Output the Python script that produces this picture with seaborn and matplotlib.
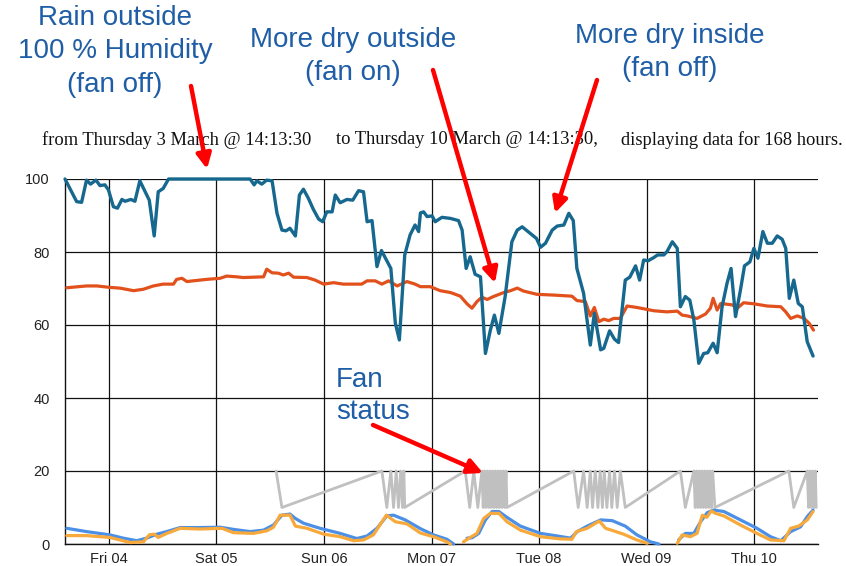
import numpy as np
import pandas as pd
import matplotlib
matplotlib.use("Agg")
import matplotlib.pyplot as plt
import seaborn as sns

# ---------------- data (hours since Thu 3 March 14:13:30) ----------------
hum_out_h = [0, 2.6, 3.7, 4.8, 5.7, 6.9, 7.8, 8.9, 9.7, 10.8, 11.7, 12.7, 13.4, 14.7, 15.6, 16.7,
             17.9, 18.8, 19.9, 20.8, 21.9, 23.1, 41.3, 42.2, 42.8, 43.9, 45.0, 46.2, 47.3, 48.4,
             49.3, 50.2, 51.4, 52.3, 53.2, 54.3, 55.4, 56.6, 57.5, 58.4, 59.6, 60.3, 61.4, 62.9,
             64.2, 65.5, 66.6, 67.4, 68.5, 69.6, 70.6, 71.7, 72.7, 73.7, 74.6, 75.8, 77.0, 78.1,
             78.9, 79.3, 80.0, 80.8, 81.9, 82.6, 84.1, 86.0, 87.8, 88.6, 89.5, 90.4, 91.5, 92.7,
             93.8, 94.9, 95.8, 96.8, 98.2, 99.7, 100.9, 102.0, 103.8, 105.2, 106.1, 107.2, 108.7,
             109.8, 111.3, 112.4, 113.4, 114.2, 115.7, 117.2, 118.1, 119.5, 120.2, 121.5, 122.6,
             123.5, 125.0, 126.0, 127.3, 128.2, 129.1, 130.1, 131.4, 132.2, 133.6, 134.3, 135.5,
             136.6, 137.3, 138.4, 139.4, 140.3, 141.4, 142.5, 143.4, 144.6, 145.5, 146.6, 147.7,
             148.6, 149.6, 150.7, 151.6, 152.8, 153.7, 154.6, 155.7, 156.7, 157.8, 158.9, 160.0,
             160.8, 161.6, 162.6, 163.6, 164.5, 165.6, 166.9]
hum_out_v = [100, 93.8, 93.6, 99.7, 98.6, 99.7, 98.2, 98.4, 97.0, 92.4, 92.0, 94.4, 93.9, 94.4, 93.9, 99.5,
             96.5, 94.2, 84.4, 96.5, 97.4, 100, 100, 98.4, 99.5, 98.6, 99.7, 99.5, 90.6, 86.0,
             85.8, 86.5, 84.4, 95.6, 97.2, 94.7, 91.7, 89.0, 88.3, 91.0, 91.0, 95.6, 93.5, 94.4,
             94.2, 96.8, 96.5, 88.3, 88.6, 76.0, 80.4, 77.8, 75.5, 60.5, 55.9, 79.2, 84.7, 87.4,
             85.6, 90.7, 91.0, 89.7, 89.9, 88.3, 89.5, 89.2, 88.6, 86.0, 75.5, 78.7, 73.9, 73.2,
             52.2, 58.6, 62.7, 57.7, 67.8, 82.8, 86.0, 86.9, 85.1, 83.7, 81.3, 82.4, 86.0,
             87.1, 87.4, 90.6, 88.6, 75.5, 68.7, 54.5, 63.2, 53.2, 53.6, 58.4, 56.1,
             55.2, 72.3, 73.1, 76.2, 72.3, 77.8, 77.6, 78.5, 79.2, 79.2, 80.1, 82.8,
             81.0, 65.0, 67.8, 66.8, 61.4, 49.5, 52.2, 52.4, 55.0, 52.4, 65.0, 71.4,
             75.5, 62.3, 69.6, 76.2, 77.3, 81.0, 78.3, 85.6, 82.4, 82.4, 84.4, 83.5,
             81.0, 67.3, 72.3, 65.9, 65.0, 55.4, 51.5]

hum_in_h = [0.4, 4.8, 7.1, 10.0, 12.3, 15.3, 17.5, 19.7, 21.9, 24.2, 24.9, 26.1, 27.2, 28.6, 31.6,
            34.6, 36.1, 38.3, 39.8, 42.0, 44.3, 45.0, 46.2, 47.6, 48.7, 49.9, 51.0, 54.0, 55.8,
            57.7, 59.9, 62.1, 66.2, 67.4, 69.2, 70.7, 72.2, 74.1, 76.3, 78.1, 79.3, 81.5, 83.7,
            86.0, 88.2, 89.7, 90.8, 91.9, 93.0, 94.2, 95.6, 97.9, 99.4, 100.9, 102.3, 105.3,
            109.0, 113.1, 114.2, 116.1, 117.2, 118.1, 119.1, 120.2, 121.3, 122.4, 123.9, 125.4,
            127.6, 131.4, 134.3, 136.6, 137.7, 138.8, 141.0, 142.9, 144.0, 144.6, 145.5, 146.3,
            148.9, 150.0, 151.4, 153.7, 156.7, 159.7, 160.8, 161.9, 163.4, 164.9, 166.0, 167.0]
hum_in_v = [70.2, 70.7, 70.7, 70.3, 70.1, 69.4, 69.8, 70.7, 71.2, 71.2, 72.5, 72.8, 71.9, 72.1, 72.5,
            72.8, 73.4, 73.2, 73.0, 73.1, 73.2, 75.3, 74.3, 74.2, 73.7, 74.2, 73.1, 73.0, 72.3,
            71.2, 71.6, 71.2, 71.2, 72.1, 72.1, 71.2, 72.1, 70.7, 71.9, 71.2, 70.5, 70.5, 69.4,
            68.9, 67.9, 65.8, 64.6, 66.4, 67.6, 67.0, 67.8, 68.9, 69.4, 70.1, 69.3, 68.4,
            68.2, 67.9, 66.7, 66.4, 62.5, 64.8, 60.9, 61.6, 61.2, 61.8, 61.8, 65.2,
            64.8, 63.9, 63.6, 63.8, 62.7, 62.5, 61.8, 63.0, 64.6, 67.3, 64.1, 65.9,
            65.5, 64.6, 66.1, 65.8, 65.2, 65.0, 63.6, 61.8, 62.5, 61.8, 60.5, 58.6]

# temperatures (NaN = no data / gap)
temp_out_h = [0.4, 4.8, 10.0, 13.0, 16.0, 18.2, 20.5, 22.7, 25.7, 30.1, 34.6, 37.6, 41.3, 44.3,
              46.5, 48.4, 50.2, 51.4, 53.2, 56.9, 61.4, 65.1, 67.4, 69.6, 71.8, 73.3, 75.9, 79.3,
              82.2, 85.2, 86.7, 88.0, 89.7, 90.8, 92.3, 93.8, 95.3, 96.8, 98.6, 101.6, 106.1, 109.8,
              112.8, 114.3, 116.5, 119.5, 122.1, 125.0, 127.6, 130.6, 132.5, 135.0, 136.9, 138.4,
              140.3, 141.8, 143.3, 144.7, 147.0, 150.7, 154.4, 157.4, 159.7, 161.9, 164.1, 165.6, 166.9]
temp_out_v = [4.3, 3.4, 2.5, 1.6, 0.9, 1.6, 2.7, 3.4, 4.5, 4.5, 4.6, 4.0, 3.4, 3.8,
              5.2, 7.9, 8.2, 7.0, 5.7, 4.3, 2.9, 1.5, 2.2, 4.3, 7.7, 7.9, 6.6, 4.2,
              2.5, 1.3, 0.0, np.nan, 1.6, 1.7, 2.9, 6.6, 8.9, 8.9, 7.3, 4.9, 2.9, 2.2,
              1.6, 3.4, 4.9, 6.6, 6.4, 4.9, 2.5, 0.6, 0.0, np.nan, 1.1, 2.9,
              2.9, 6.1, 8.6, 9.3, 8.9, 6.6, 4.3, 2.0, 0.9, 3.4, 4.7, 7.5, 9.3]

temp_in_h = [0.4, 4.8, 10.0, 14.5, 17.5, 18.8, 19.9, 20.8, 22.7, 25.7, 30.1, 35.0, 37.6, 42.0,
             45.0, 46.5, 48.0, 50.2, 51.4, 54.0, 57.7, 61.4, 64.4, 66.6, 68.8, 71.7, 73.7, 76.3,
             79.3, 82.2, 85.2, 86.0, 87.5, 88.9, 90.4, 91.9, 93.4, 94.9, 96.8, 98.6, 101.6, 106.1,
             110.5, 113.1, 114.1, 116.5, 119.2, 120.6, 122.4, 124.6, 127.6, 129.9, 133.0, 136.6,
             137.7, 139.5, 141.0, 142.2, 143.2, 144.2, 145.1, 147.0, 150.7, 154.4, 157.4, 160.4,
             161.9, 163.7, 165.6, 166.9]
temp_in_v = [2.3, 2.3, 1.8, 0.4, 0.6, 2.5, 2.7, 1.8, 2.9, 4.3, 4.1, 4.3, 3.1, 2.9,
             3.6, 4.6, 7.9, 7.9, 4.9, 4.3, 2.7, 2.0, 0.9, 1.1, 2.5, 7.9, 6.1, 5.5,
             3.0, 2.0, 0.6, 0.0, np.nan, 0.6, 1.8, 2.9, 7.0, 8.4, 8.4, 6.1, 3.8, 2.0,
             1.4, 1.3, 3.4, 4.3, 6.3, 4.3, 3.6, 2.7, 1.1, 0.2, np.nan, 0.2,
             2.5, 2.0, 2.9, 7.9, 7.3, 9.1, 8.4, 7.7, 5.2, 2.9, 1.1, 0.9,
             4.3, 4.9, 6.6, 8.9]

fan_h = [47.1, 48.4, 70.7, 71.8, 72.7, 73.3, 73.9, 74.4, 74.9, 75.3, 75.6, 75.8,
         89.3, 90.3, 91.2, 92.1, 93.0, 93.3, 93.6, 93.9, 94.2, 94.5, 94.8, 95.1, 95.4, 95.7,
         96.0, 96.3, 96.6, 96.9, 97.2, 97.5, 97.8, 98.1, 98.4, 98.6,
         113.5, 114.5, 115.7, 116.5, 117.2, 117.7, 118.3, 118.9, 119.4, 119.9, 120.3, 120.9,
         121.5, 122.0, 122.6, 123.2, 123.9, 125.0,
         137.3, 138.4, 140.3, 140.6, 140.9, 141.2, 141.5, 141.8, 142.1, 142.4, 142.7, 143.0,
         143.3, 143.6, 143.9, 144.2, 144.5, 145.0,
         161.5, 162.6, 165.6, 165.9, 166.2, 166.5, 166.8, 167.1, 167.4, 167.6]
fan_v = [20, 10, 20, 10, 20, 10, 20, 10, 20, 10, 20, 10,
         20, 10, 20, 10, 20, 10, 20, 10, 20, 10, 20, 10, 20, 10,
         20, 10, 20, 10, 20, 10, 20, 10, 20, 10,
         20, 10, 20, 10, 20, 10, 20, 10, 20, 10, 20, 10,
         20, 10, 20, 10, 20, 10,
         20, 10, 20, 10, 20, 10, 20, 10, 20, 10, 20, 10,
         20, 10, 20, 10, 20, 10,
         20, 10, 20, 10, 20, 10, 20, 10, 20, 10]

day_ticks = [9.775, 33.775, 57.775, 81.775, 105.775, 129.775, 153.775]
day_labels = ["Fri 04", "Sat 05", "Sun 06", "Mon 07", "Tue 08", "Wed 09", "Thu 10"]
y_ticks = [0, 20, 40, 60, 80, 100]

# ---------------- figure ----------------
sns.set_style("white")
plt.rcParams['font.family'] = ['Liberation Sans', 'DejaVu Sans']

W, H = 846, 566
fig = plt.figure(figsize=(W / 100, H / 100), dpi=100)
ax = fig.add_axes([65 / W, 22 / H, 753 / W, 365 / H])


def draw(h, v, color, lw, z):
    df = pd.DataFrame({"h": h, "v": v})
    df["seg"] = df["v"].isna().cumsum()
    df = df.dropna()
    n0 = len(ax.lines)
    sns.lineplot(data=df, x="h", y="v", units="seg", estimator=None, sort=False,
                 color=color, lw=lw, ax=ax, legend=False)
    for ln in ax.lines[n0:]:
        ln.set_zorder(z)
        ln.set_clip_on(False)
        ln.set_solid_joinstyle("round")
        ln.set_solid_capstyle("round")


draw(fan_h, fan_v, "#c0c0c0", 2.0, 3)
draw(temp_out_h, temp_out_v, "#4b8fe6", 2.3, 4)
draw(temp_in_h, temp_in_v, "#f7a93b", 2.3, 5)
draw(hum_in_h, hum_in_v, "#e2501c", 2.3, 6)
draw(hum_out_h, hum_out_v, "#16688f", 2.4, 7)

ax.set_xlim(0, 168)
ax.set_ylim(0, 100)
ax.set_xticks(day_ticks)
ax.set_xticklabels(day_labels)
ax.set_yticks(y_ticks)
ax.set_yticklabels([str(t) for t in y_ticks])
ax.set_xlabel("")
ax.set_ylabel("")
ax.grid(True, color="#111111", lw=0.9)
ax.set_axisbelow(True)
for s in ["top", "right"]:
    ax.spines[s].set_visible(False)
for s in ["left", "bottom"]:
    ax.spines[s].set_color("#111111")
    ax.spines[s].set_linewidth(1.0)
ax.tick_params(axis="y", length=9, width=0.9, color="#111111", pad=2,
               labelsize=10.5, labelcolor="#222222")
ax.tick_params(axis="x", length=3, width=0.9, color="#111111", pad=3,
               labelsize=10.5, labelcolor="#222222")


def fx(x):
    return x / W


def fy(y):
    return 1 - y / H


# header line (serif)
hdr_font = dict(family=["Liberation Serif", "DejaVu Serif"], size=13.3, color="#111111",
                va="center", ha="left")
fig.text(fx(42), fy(140), "from Thursday 3 March @ 14:13:30", **hdr_font)
fig.text(fx(336), fy(140), "to Thursday 10 March @ 14:13:30,", **hdr_font)
fig.text(fx(621), fy(140), "displaying data for 168 hours.", **hdr_font)

# annotations
blue = "#1f5ea6"
ann = dict(size=20, color=blue, va="center", ha="center")
fig.text(fx(115), fy(18), "Rain outside", **ann)
fig.text(fx(115), fy(51), "100 % Humidity", **ann)
fig.text(fx(115), fy(85), "(fan off)", **ann)
fig.text(fx(353), fy(40), "More dry outside", **ann)
fig.text(fx(353), fy(73), "(fan on)", **ann)
fig.text(fx(670), fy(36), "More dry inside", **ann)
fig.text(fx(670), fy(69), "(fan off)", **ann)
fig.text(fx(336), fy(380), "Fan", size=20, color=blue, va="center", ha="left")
fig.text(fx(336), fy(412), "status", size=20, color=blue, va="center", ha="left")

arrows = [((191, 86), (207, 169)), ((433, 70), (495, 283)),
          ((597, 80), (555, 213)), ((373, 425), (483, 473))]
for (x0, y0), (x1, y1) in arrows:
    fig.add_artist(matplotlib.patches.FancyArrowPatch(
        (fx(x0), fy(y0)), (fx(x1), fy(y1)), transform=fig.transFigure,
        arrowstyle="-|>", mutation_scale=22, color="#ff0000", lw=3.2,
        shrinkA=0, shrinkB=0, zorder=20))

fig.savefig("out.png", dpi=100)
